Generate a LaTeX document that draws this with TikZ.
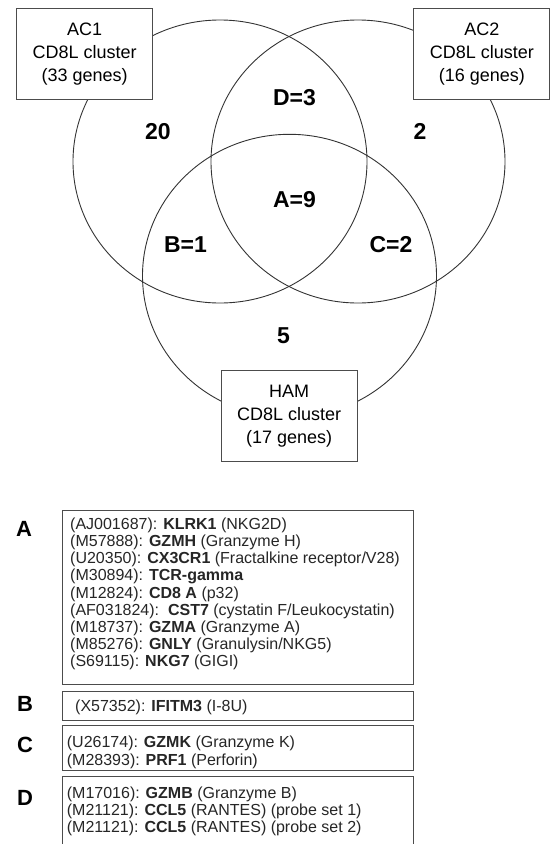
\documentclass[tikz,border=0pt]{standalone}
\usepackage{fontspec}
\setmainfont{Liberation Sans}
\setsansfont{Liberation Sans}
\usepackage{tikz}
\usetikzlibrary{shapes.geometric, positioning}

\begin{document}
\begin{tikzpicture}[x=1pt, y=-1pt, every node/.style={font=\sffamily}]
    % Styles
    \tikzstyle{set} = [ellipse, draw=black!80, line width=0.9pt, minimum width=294pt, minimum height=283pt, inner sep=0pt]
    \tikzstyle{setbox} = [rectangle, draw=black!70, fill=white, line width=0.9pt, minimum width=136pt, minimum height=91pt, align=center, inner sep=0pt, font=\sffamily\fontsize{18}{23}\selectfont]
    \tikzstyle{count} = [font=\sffamily\bfseries\fontsize{23}{23}\selectfont, inner sep=0pt]
    \tikzstyle{listbox} = [rectangle, draw=black!70, line width=0.9pt, minimum width=351.6pt, inner sep=0pt]
    \tikzstyle{listtext} = [align=left, inner sep=0pt, text=black!85, font=\sffamily\fontsize{16}{17.2}\selectfont]
    \tikzstyle{tag} = [font=\sffamily\bfseries\fontsize{22}{22}\selectfont, inner sep=0pt]

    \clip (0,0) rectangle (551,844);

    % Venn sets
    \node[set] (ac1) at (220,161.5) {};
    \node[set] (ac2) at (358,161.5) {};
    \node[set] (ham) at (289.5,275.8) {};

    % Set labels
    \node[setbox] (ac1box) at (84.7,53.7) {AC1\\CD8L cluster\\(33 genes)};
    \node[setbox] (ac2box) at (481.8,53.7) {AC2\\CD8L cluster\\(16 genes)};
    \node[setbox] (hambox) at (289.2,416.4) {HAM\\CD8L cluster\\(17 genes)};

    % Counts
    \node[count] (only1) at (158,131.7) {20};
    \node[count] (only2) at (420,131.7) {2};
    \node[count] (only3) at (283.6,335.7) {5};
    \node[count] (regD) at (294.5,97.3) {D=3};
    \node[count] (regA) at (294.5,199.3) {A=9};
    \node[count] (regB) at (185.5,244.3) {B=1};
    \node[count] (regC) at (391,244.3) {C=2};

    % Gene lists
    \node[listbox, anchor=north west, minimum height=174.3pt] (boxA) at (61.7,510) {};
    \node[listbox, below=5.7pt of boxA, minimum height=29.3pt] (boxB) {};
    \node[listbox, below=4pt of boxB, minimum height=44.4pt] (boxC) {};
    \node[listbox, below=5.6pt of boxC, minimum height=90pt] (boxD) {};

    \node[listtext, below right=7.5pt and 8.3pt of boxA.north west] (listA) {%
        (AJ001687): \textbf{KLRK1} (NKG2D)\\
        (M57888): \textbf{GZMH} (Granzyme H)\\
        (U20350): \textbf{CX3CR1} (Fractalkine receptor/V28)\\
        (M30894): \textbf{TCR-gamma}\\
        (M12824): \textbf{CD8 A} (p32)\\
        (AF031824):\ \ \textbf{CST7} (cystatin F/Leukocystatin)\\
        (M18737): \textbf{GZMA} (Granzyme A)\\
        (M85276): \textbf{GNLY} (Granulysin/NKG5)\\
        (S69115): \textbf{NKG7} (GIGI)};
    \node[listtext, below right=9.2pt and 13.3pt of boxB.north west] (listB) {(X57352): \textbf{IFITM3} (I-8U)};
    \node[listtext, below right=10.9pt and 5pt of boxC.north west] (listC) {%
        (U26174): \textbf{GZMK} (Granzyme K)\\
        (M28393): \textbf{PRF1} (Perforin)};
    \node[listtext, below right=10.2pt and 5pt of boxD.north west] (listD) {%
        (M17016): \textbf{GZMB} (Granzyme B)\\
        (M21121): \textbf{CCL5} (RANTES) (probe set 1)\\
        (M21121): \textbf{CCL5} (RANTES) (probe set 2)};

    % Tags
    \node[tag] (tagA) at (24,529) {A};
    \node[tag] (tagB) at (25,704) {B};
    \node[tag] (tagC) at (25,745) {C};
    \node[tag] (tagD) at (25,798) {D};
\end{tikzpicture}
\end{document}
